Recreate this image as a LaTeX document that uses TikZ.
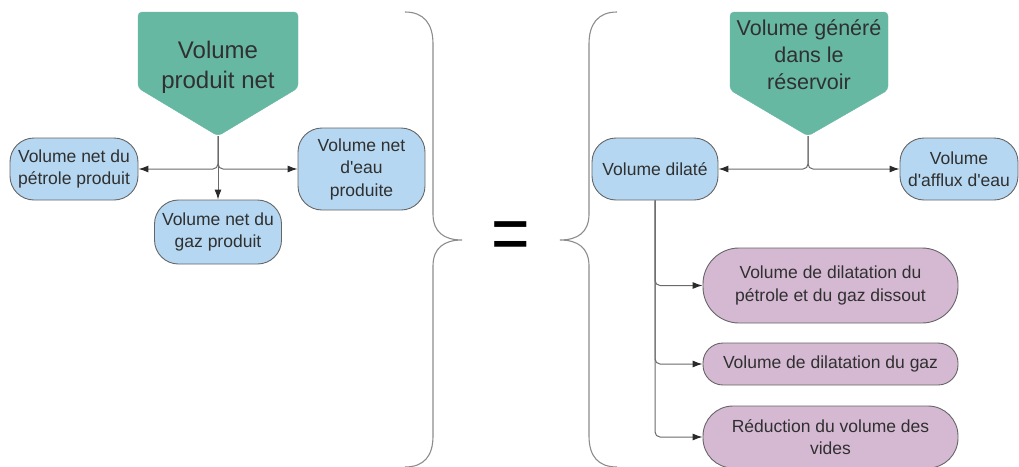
\documentclass[tikz,border=0pt]{standalone}
\usepackage{fontspec}
\setmainfont{Liberation Sans}[Ligatures=TeXOff]
\usetikzlibrary{arrows.meta}
\definecolor{teal}{HTML}{66B8A2}
\definecolor{bluefill}{HTML}{B5D7F1}
\definecolor{purplefill}{HTML}{D5B9D3}
\definecolor{bordercol}{HTML}{666666}
\definecolor{linecol}{HTML}{6A6A6A}
\definecolor{arrowcol}{HTML}{2A2A2A}
\definecolor{txtcol}{HTML}{303030}
\definecolor{bracecol}{HTML}{8C8C8C}
\begin{document}
\begin{tikzpicture}[x=1pt,y=-1pt,
  box/.style={draw=bordercol, line width=0.9pt, align=center, inner sep=1pt, text=txtcol,
    font=\fontsize{17.5}{22.5}\selectfont},
  bluebox/.style={box, fill=bluefill, rounded corners=24pt},
  purplebox/.style={box, fill=purplefill, minimum width=255pt},
  head/.style={fill=teal, draw=teal, rounded corners=4pt},
  headtext/.style={align=center, text=txtcol},
  conn/.style={draw=linecol, line width=1pt, rounded corners=5pt, -{Latex[length=10pt,width=7pt,color=arrowcol]}},
  brace/.style={draw=bracecol, line width=1.1pt}]
\useasboundingbox (0,0) rectangle (1019,466);

% left header
\path[head] (138,12) -- (298,12) -- (298,88) -- (218,136) -- (138,88) -- cycle;
\node[headtext, font=\fontsize{24}{30}\selectfont] (lhead) at (218,67) {Volume\\produit net};
\coordinate (ltip) at (218,136);

% left nodes
\node[bluebox, minimum width=128pt, minimum height=62pt] (pet) at (74,169) {Volume net du\\pétrole produit};
\node[bluebox, minimum width=127pt, minimum height=64pt] (gaz) at (218,232) {Volume net du\\gaz produit};
\node[bluebox, minimum width=127pt, minimum height=82pt] (eau) at (361.5,169) {Volume net\\d'eau\\produite};

\draw[conn] (ltip) |- (pet.east);
\draw[conn] (ltip) |- (eau.west);
\draw[conn] (ltip) -- (gaz.north);

% braces
\draw[brace] (405,12) .. controls (424,12) and (433,24) .. (433,44) -- (433,214)
  .. controls (433,232) and (444,240) .. (462,240)
  .. controls (444,240) and (433,248) .. (433,266) -- (433,436)
  .. controls (433,456) and (424,467) .. (405,467);
\draw[brace] (617,12) .. controls (598,12) and (589,24) .. (589,44) -- (589,214)
  .. controls (589,232) and (578,240) .. (560,240)
  .. controls (578,240) and (589,248) .. (589,266) -- (589,436)
  .. controls (589,456) and (598,467) .. (617,467);

% equals
\node[font=\fontsize{66}{66}\selectfont, yscale=1.2, text=black] (eq) at (511,241) {=};

% right header
\path[head] (730,12) -- (888,12) -- (888,90) -- (808,136) -- (730,90) -- cycle;
\node[headtext, font=\fontsize{21.5}{27}\selectfont] (rhead) at (809,55) {Volume généré\\dans le\\réservoir};
\coordinate (rtip) at (808,136);

\node[bluebox, minimum width=126pt, minimum height=62pt] (dil) at (655,169) {Volume dilaté};
\node[bluebox, minimum width=118pt, minimum height=62pt] (aff) at (959,169) {Volume\\d'afflux d'eau};

\draw[conn] (rtip) |- (dil.east);
\draw[conn] (rtip) |- (aff.west);

% purple nodes
\node[purplebox, minimum height=75pt, rounded corners=36pt] (p1) at (830.5,285.5) {Volume de dilatation du\\pétrole et du gaz dissout};
\node[purplebox, minimum height=42pt, rounded corners=20pt] (p2) at (830.5,364) {Volume de dilatation du gaz};
\node[purplebox, minimum height=62pt, rounded corners=30pt] (p3) at (830.5,437) {Réduction du volume des\\vides};

\draw[conn] (dil.south) |- (p1.west);
\draw[conn] (dil.south) |- (p2.west);
\draw[conn] (dil.south) |- (p3.west);
\end{tikzpicture}
\end{document}
